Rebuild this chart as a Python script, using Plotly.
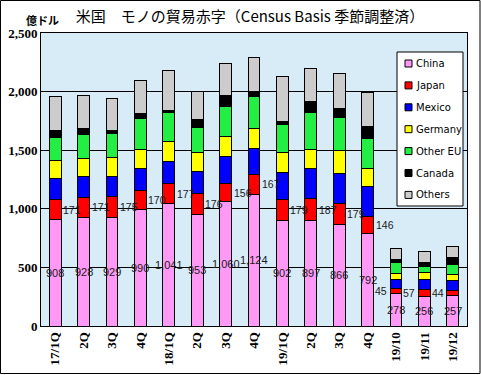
import plotly.graph_objects as go

# ---- data (億ドル) ----
categories = ["17/1Q", "2Q", "3Q", "4Q", "18/1Q", "2Q", "3Q", "4Q",
              "19/1Q", "2Q", "3Q", "4Q", "19/10", "19/11", "19/12"]
series_names = ["China", "Japan", "Mexico", "Germany", "Other EU", "Canada", "Others"]
china    = [908, 928, 929, 990, 1041, 953, 1060, 1124, 902, 897, 866, 792, 278, 256, 257]
japan    = [171, 171, 175, 170, 177, 176, 156, 167, 179, 187, 179, 146, 45, 57, 44]
mexico   = [177, 176, 168, 184, 185, 186, 232, 224, 230, 260, 260, 255, 75, 80, 88]
germany  = [153, 153, 165, 162, 170, 168, 167, 167, 171, 162, 190, 150, 51, 60, 48]
other_eu = [201, 202, 207, 261, 252, 213, 261, 278, 238, 312, 283, 261, 90, 51, 85]
canada   = [57, 57, 23, 48, 12, 62, 91, 43, 22, 94, 74, 100, 32, 34, 60]
others   = [287, 278, 273, 279, 341, 244, 270, 284, 387, 287, 305, 289, 93, 94, 97]
y_ticks = [0, 500, 1000, 1500, 2000, 2500]

series_values = [china, japan, mexico, germany, other_eu, canada, others]
colors = ["#FF99F5", "#FF0000", "#0000FF", "#FFFF00", "#22EE44", "#000000", "#CCCCCC"]

W, H = 481, 375
ML, MR, MT, MB = 41, 14, 33, 49
PW, PH = W - ML - MR, H - MT - MB

def px_x(p):  # pixel -> paper x
    return (p - ML) / PW

def px_y(p):  # pixel -> paper y
    return (H - MB - p) / PH

xs = list(range(len(categories)))
fig = go.Figure()
for name, vals, col in zip(series_names, series_values, colors):
    fig.add_trace(go.Bar(
        x=xs, y=vals, name=name, marker_color=col,
        marker_line=dict(color="black", width=1),
        showlegend=False, hoverinfo="name+y"))

annotations = []
china_font = dict(family="Liberation Sans", size=11, color="#1a1a1a")
japan_font = dict(family="Liberation Sans", size=10.5, color="#1a1a1a")
for i, cat in enumerate(categories):
    annotations.append(dict(x=i, y=china[i] / 2, xref="x", yref="y",
                            text=f"{china[i]:,}", showarrow=False,
                            font=china_font, xanchor="center", yanchor="middle"))
    monthly = not cat.endswith("Q")
    annotations.append(dict(x=i, y=china[i] + japan[i] / 2, xref="x", yref="y",
                            text=f"{japan[i]:,}", showarrow=False, font=japan_font,
                            xanchor="right" if monthly else "left",
                            xshift=-7 if monthly else 6, yanchor="middle"))

# unit label
annotations.append(dict(x=px_x(42), y=px_y(20), xref="paper", yref="paper",
                        text="<b>億ドル</b>", showarrow=False,
                        font=dict(family="Noto Sans CJK JP", size=11, color="black"),
                        xanchor="center", yanchor="middle"))

shapes = []
# outer border
shapes.append(dict(type="rect", xref="paper", yref="paper",
                   x0=px_x(0.5), x1=px_x(480), y0=px_y(373.5), y1=px_y(0.5),
                   line=dict(color="black", width=1), fillcolor="rgba(0,0,0,0)", layer="above"))
# legend box
lx0, lx1, ly0, ly1 = 397, 463, 52, 206
shapes.append(dict(type="rect", xref="paper", yref="paper",
                   x0=px_x(lx0), x1=px_x(lx1), y0=px_y(ly1), y1=px_y(ly0),
                   line=dict(color="black", width=1), fillcolor="white", layer="above"))
for k, (name, col) in enumerate(zip(series_names, colors)):
    cy = 63.5 + k * 21.9
    shapes.append(dict(type="rect", xref="paper", yref="paper",
                       x0=px_x(405), x1=px_x(412), y0=px_y(cy + 3.5), y1=px_y(cy - 3.5),
                       line=dict(color="black", width=1), fillcolor=col, layer="above"))
    annotations.append(dict(x=px_x(414), y=px_y(cy), xref="paper", yref="paper",
                            text=name, showarrow=False,
                            font=dict(family="DejaVu Sans", size=10, color="black"),
                            xanchor="left", yanchor="middle"))

fig.update_layout(
    width=W, height=H,
    margin=dict(l=ML, r=MR, t=MT, b=MB, autoexpand=False),
    paper_bgcolor="white", plot_bgcolor="#D8ECF8",
    barmode="stack", bargap=0.58,
    title=dict(text="米国　モノの貿易赤字（Census Basis 季節調整済）",
               font=dict(family="Noto Sans CJK JP", size=15, color="black"),
               x=px_x(250), xref="paper", xanchor="center",
               y=1 - 17 / H, yref="container", yanchor="middle"),
    xaxis=dict(range=[-0.5, len(categories) - 0.5], tickmode="array",
               tickvals=xs, ticktext=categories, tickangle=-90, automargin=False,
               tickfont=dict(family="Liberation Serif", size=13, color="black", weight="bold"),
               showgrid=False, showline=True, linecolor="black", linewidth=1, mirror=True,
               ticks="", zeroline=False),
    yaxis=dict(range=[0, 2500], tickmode="array", tickvals=y_ticks, automargin=False,
               ticktext=[f"{v:,}" for v in y_ticks],
               tickfont=dict(family="Liberation Serif", size=13, color="black", weight="bold"),
               showgrid=True, gridcolor="black", gridwidth=1,
               showline=True, linecolor="black", linewidth=1, mirror=True,
               ticks="", zeroline=False),
    annotations=annotations, shapes=shapes,
)

fig.write_html("out.html", config={"displayModeBar": False},
               post_script="document.body.style.margin='0';document.body.style.overflow='hidden';")
